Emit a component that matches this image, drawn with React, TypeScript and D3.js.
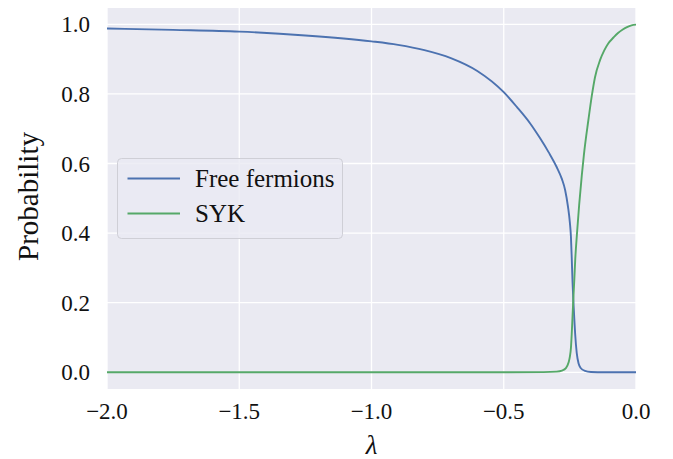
import React from "react";
import * as d3 from "d3";

const freeX = [-2.0, -1.75, -1.5, -1.25, -1.0, -0.9, -0.8, -0.7, -0.6, -0.5, -0.45, -0.4, -0.363, -0.33, -0.3, -0.28, -0.268, -0.257, -0.25, -0.246, -0.243, -0.24, -0.237, -0.233, -0.23, -0.224, -0.217, -0.21, -0.193, -0.17, -0.12, 0.0];
const freeY = [0.988, 0.984, 0.979, 0.968, 0.951, 0.941, 0.926, 0.903, 0.866, 0.805, 0.762, 0.715, 0.673, 0.632, 0.59, 0.555, 0.524, 0.475, 0.43, 0.39, 0.33, 0.26, 0.208, 0.15, 0.11, 0.055, 0.025, 0.013, 0.004, 0.001, 0.0, 0.0];

const sykX = [-2.0, -1.0, -0.5, -0.35, -0.30, -0.28, -0.265, -0.255, -0.25, -0.246, -0.243, -0.24, -0.237, -0.233, -0.23, -0.223, -0.215, -0.205, -0.197, -0.18, -0.167, -0.155, -0.136, -0.12, -0.105, -0.085, -0.068, -0.05, -0.034, -0.017, 0.0];
const sykY = [0.0, 0.0, 0.0, 0.0005, 0.002, 0.005, 0.012, 0.028, 0.045, 0.07, 0.11, 0.16, 0.21, 0.27, 0.32, 0.40, 0.48, 0.565, 0.625, 0.725, 0.795, 0.848, 0.897, 0.925, 0.945, 0.962, 0.975, 0.985, 0.992, 0.997, 0.999];

const xTicks = [-2.0, -1.5, -1.0, -0.5, 0.0];
const yTicks = [0.0, 0.2, 0.4, 0.6, 0.8, 1.0];
const seriesNames = ["Free fermions", "SYK"];
const seriesColors = ["#4C72B0", "#55A868"];

const W = 673;
const H = 459;
const left = 107;
const right = 636;
const top = 8;
const bottom = 389;

export default function App() {
  const x = d3.scaleLinear().domain([-2, 0]).range([left, right]);
  const y = d3.scaleLinear().domain([0, 1]).range([372.3, 24.3]);
  const line = d3
    .line<[number, number]>()
    .x((d) => x(d[0]))
    .y((d) => y(d[1]))
    .curve(d3.curveMonotoneX);
  const freePts = freeX.map((v, i) => [v, freeY[i]] as [number, number]);
  const sykPts = sykX.map((v, i) => [v, sykY[i]] as [number, number]);
  const fmt = (v: number) => (v < 0 ? "\u2212" : "") + Math.abs(v).toFixed(1);
  const font = "'Liberation Serif', 'DejaVu Serif', serif";

  return (
    <svg width={W} height={H} style={{ position: "absolute", left: 0, top: 0, background: "#fff" }} fontFamily={font}>
      <rect x={left} y={top} width={right - left} height={bottom - top} fill="#EAEAF2" />
      <clipPath id="plotclip">
        <rect x={left} y={top} width={right - left} height={bottom - top} />
      </clipPath>
      {xTicks.map((t) => (
        <line key={"gx" + t} x1={x(t)} x2={x(t)} y1={top} y2={bottom} stroke="#fff" strokeWidth={1.3} />
      ))}
      {yTicks.map((t) => (
        <line key={"gy" + t} x1={left} x2={right} y1={y(t)} y2={y(t)} stroke="#fff" strokeWidth={1.3} />
      ))}
      <g clipPath="url(#plotclip)">
        <path d={line(freePts) || ""} fill="none" stroke={seriesColors[0]} strokeWidth={1.9} />
        <path d={line(sykPts) || ""} fill="none" stroke={seriesColors[1]} strokeWidth={1.9} />
      </g>
      {xTicks.map((t) => (
        <text key={"tx" + t} x={x(t)} y={419} textAnchor="middle" fontSize={23} fill="#111">
          {fmt(t)}
        </text>
      ))}
      {yTicks.map((t) => (
        <text key={"ty" + t} x={90} y={y(t) + 8} textAnchor="end" fontSize={23} fill="#111">
          {fmt(t)}
        </text>
      ))}
      <text x={(left + right) / 2} y={454} textAnchor="middle" fontSize={27} fontStyle="italic" fill="#111">
        λ
      </text>
      <text
        transform={`translate(38, ${(top + bottom) / 2 - 2}) rotate(-90)`}
        textAnchor="middle"
        fontSize={29}
        fill="#111"
      >
        Probability
      </text>
      <g>
        <rect x={117.5} y={158.5} width={225} height={80} rx={4} fill="#EAEAF2" fillOpacity={0.8} stroke="#cfcfd6" strokeWidth={1} />
        {seriesNames.map((n, i) => (
          <g key={n}>
            <line x1={127.5} x2={180} y1={178.5 + i * 35} y2={178.5 + i * 35} stroke={seriesColors[i]} strokeWidth={1.9} />
            <text x={195} y={178.5 + i * 35 + 8} fontSize={25} fill="#111">
              {n}
            </text>
          </g>
        ))}
      </g>
    </svg>
  );
}
